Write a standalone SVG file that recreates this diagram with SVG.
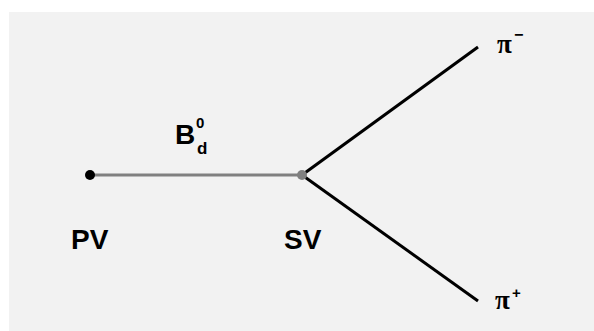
<svg xmlns="http://www.w3.org/2000/svg" width="594" height="331" viewBox="0 0 594 331">
<style>
.lbl{font-family:"Liberation Sans",Arial,sans-serif;font-weight:bold;fill:#000}
.pi{font-family:"Liberation Serif","Times New Roman",serif;font-weight:bold;fill:#000}
.trk{stroke:#000;stroke-width:3;fill:none}
</style>
<rect x="0" y="0" width="594" height="331" fill="#fff"/>
<rect x="9" y="12" width="585" height="319" fill="#f2f2f2"/>
<g id="connectors">
<line x1="90" y1="175" x2="302" y2="175" stroke="#808080" stroke-width="3"/>
<line class="trk" x1="302" y1="175" x2="478" y2="47"/>
<line class="trk" x1="302" y1="175" x2="478" y2="301"/>
</g>
<g id="PV">
<circle cx="90" cy="175" r="5" fill="#000"/>
<text class="lbl" x="71" y="249" font-size="28">PV</text>
</g>
<g id="SV">
<circle cx="302" cy="175" r="5" fill="#808080"/>
<text class="lbl" x="284" y="249" font-size="28">SV</text>
</g>
<g id="B">
<text class="lbl" x="175" y="144" font-size="28">B</text>
<text class="lbl" x="196" y="128" font-size="15">0</text>
<text class="lbl" x="197" y="154" font-size="17">d</text>
</g>
<g id="piminus">
<text class="pi" x="497" y="53" font-size="27">π</text>
<text class="lbl" x="514" y="40" font-size="16">−</text>
</g>
<g id="piplus">
<text class="pi" x="495" y="309" font-size="27">π</text>
<text class="lbl" x="512" y="298" font-size="15">+</text>
</g>
</svg>
